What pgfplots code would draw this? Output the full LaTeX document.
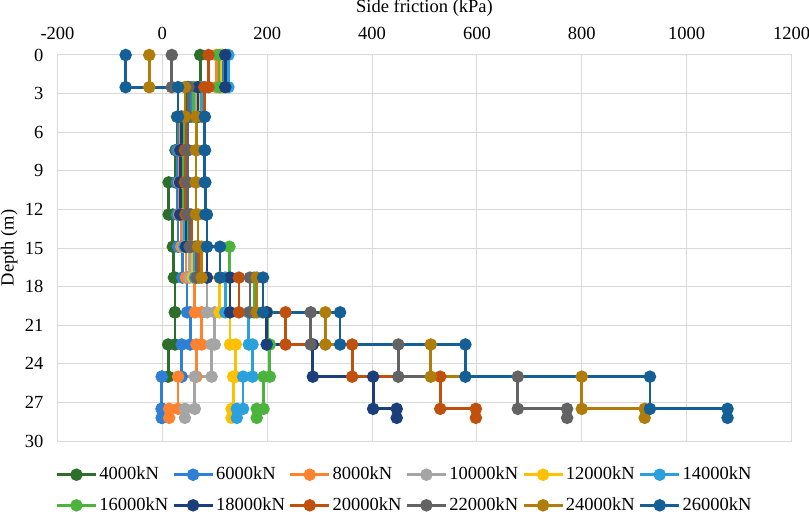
\documentclass[border=0pt]{standalone}
\usepackage{fontspec}
\setmainfont{Liberation Serif}
\usepackage{pgfplots}
\usepackage{pgfplotstable}
\pgfplotsset{compat=1.18}
\definecolor{gridc}{HTML}{D9D9D9}
\definecolor{cA}{HTML}{2C6E2A}
\definecolor{cB}{HTML}{2E7FD6}
\definecolor{cC}{HTML}{FF822E}
\definecolor{cD}{HTML}{A5A5A5}
\definecolor{cE}{HTML}{FFC000}
\definecolor{cF}{HTML}{2AA0DC}
\definecolor{cG}{HTML}{4CB43C}
\definecolor{cH}{HTML}{1B3F7A}
\definecolor{cI}{HTML}{C0500E}
\definecolor{cJ}{HTML}{636363}
\definecolor{cK}{HTML}{B07D0A}
\definecolor{cL}{HTML}{135F96}

% depth d ; side friction for 4000 ... 26000 kN
\pgfplotstableread{
d    s1  s2  s3  s4  s5  s6  s7  s8  s9  s10 s11 s12
0    72  115 103 110 112 126 108 120 88  18  -25 -70
2.5  72  115 103 110 112 126 108 120 88  18  -25 -70
2.5  48  55  60  65  70  75  59  68  80  50  43  30
4.8  48  55  60  65  70  75  59  68  80  50  43  30
4.8  28  30  35  38  40  36  42  36  45  49  65  81
7.4  28  30  35  38  40  36  42  36  45  49  65  81
7.4  25  28  33  36  38  34  40  34  43  48  64  81
9.9  25  28  33  36  38  34  40  34  43  48  64  81
9.9  12  28  32  35  38  34  40  34  44  48  64  82
12.4 12  28  32  35  38  34  40  34  44  48  64  82
12.4 20  30  36  40  42  42  50  45  55  52  68  85
14.9 20  30  36  40  42  42  50  45  55  52  68  85
14.9 22  38  45  52  58  62  128 85  70  65  75  110
17.3 22  38  45  52  58  62  128 85  70  65  75  110
17.3 24  47  62  85  109 120 175 129 146 167 180 192
20   24  47  62  85  109 120 175 129 146 167 180 192
20   24  53  75  100 129 165 200 199 235 283 311 339
22.5 24  53  75  100 129 165 200 199 235 283 311 339
22.5 11  37  65  94  140 172 205 287 362 450 512 578
25   11  37  65  94  140 172 205 287 362 450 512 578
25   -1  -1  30  62  135 154 193 402 530 678 800 930
27.5 -1  -1  30  62  135 154 193 402 530 678 800 930
27.5 -1  -1  13  43  132 142 180 447 598 772 920 1078
28.2 -1  -1  13  43  132 142 180 447 598 772 920 1078
}\data

\begin{document}
\fontsize{18.5}{22}\selectfont
\begin{tikzpicture}
\begin{axis}[
  at={(0pt,0pt)}, anchor=south west,
  scale only axis, width=734pt, height=386pt,
  xmin=-200, xmax=1200, ymin=0, ymax=30,
  y dir=reverse,
  xtick={-200,0,...,1200}, ytick={0,3,...,30},
  xticklabel pos=upper,
  axis line style={draw=none},
  major tick length=0pt,
  grid=major,
  major grid style={draw=gridc, line width=1pt},
  /pgf/number format/assume math mode=true,
  /pgf/number format/set thousands separator={},
  tick label style={font=\fontsize{18.5}{22}\selectfont},
  xticklabel style={anchor=base, yshift=15pt, inner sep=0pt},
  yticklabel style={anchor=east, xshift=-14pt, inner sep=0pt},
  xlabel={Side friction (kPa)}, ylabel={Depth (m)},
  every axis x label/.style={at={(axis description cs:0.5,1)}, anchor=base, yshift=42pt, font=\fontsize{18.5}{22}\selectfont},
  every axis y label/.style={at={(axis description cs:-0.066,0.5)}, rotate=90, anchor=center, font=\fontsize{18.5}{22}\selectfont},
  legend columns=6,
  legend cell align=left,
  legend style={at={(axis description cs:0.4728,-0.127)}, anchor=center, draw=none, fill=none,
    font=\fontsize{18.5}{22}\selectfont,
    /tikz/every even column/.append style={column sep=2pt},
    row sep=15pt,
    nodes={inner xsep=2pt, inner ysep=0pt}},
  legend image code/.code={\draw[mark repeat=2,mark phase=2,#1] plot coordinates {(0pt,0pt) (19.5pt,0pt) (39pt,0pt)};},
  every axis plot/.append style={line width=2.8pt, mark=*, mark size=4.8pt, mark options={solid, line width=0.5pt}},
]
\addplot[cA, mark options={fill=cA}] table[x=s1, y=d]{\data};
\addplot[cB, mark options={fill=cB}] table[x=s2, y=d]{\data};
\addplot[cC, mark options={fill=cC}] table[x=s3, y=d]{\data};
\addplot[cD, mark options={fill=cD}] table[x=s4, y=d]{\data};
\addplot[cE, mark options={fill=cE}] table[x=s5, y=d]{\data};
\addplot[cF, mark options={fill=cF}] table[x=s6, y=d]{\data};
\addplot[cG, mark options={fill=cG}] table[x=s7, y=d]{\data};
\addplot[cH, mark options={fill=cH}] table[x=s8, y=d]{\data};
\addplot[cI, mark options={fill=cI}] table[x=s9, y=d]{\data};
\addplot[cJ, mark options={fill=cJ}] table[x=s10, y=d]{\data};
\addplot[cK, mark options={fill=cK}] table[x=s11, y=d]{\data};
\addplot[cL, mark options={fill=cL}] table[x=s12, y=d]{\data};
\legend{4000kN,6000kN,8000kN,10000kN,12000kN,14000kN,16000kN,18000kN,20000kN,22000kN,24000kN,26000kN}
\end{axis}
\pgfresetboundingbox
\path (-57.5pt,-75pt) rectangle (751.5pt,441pt);
\end{tikzpicture}
\end{document}
